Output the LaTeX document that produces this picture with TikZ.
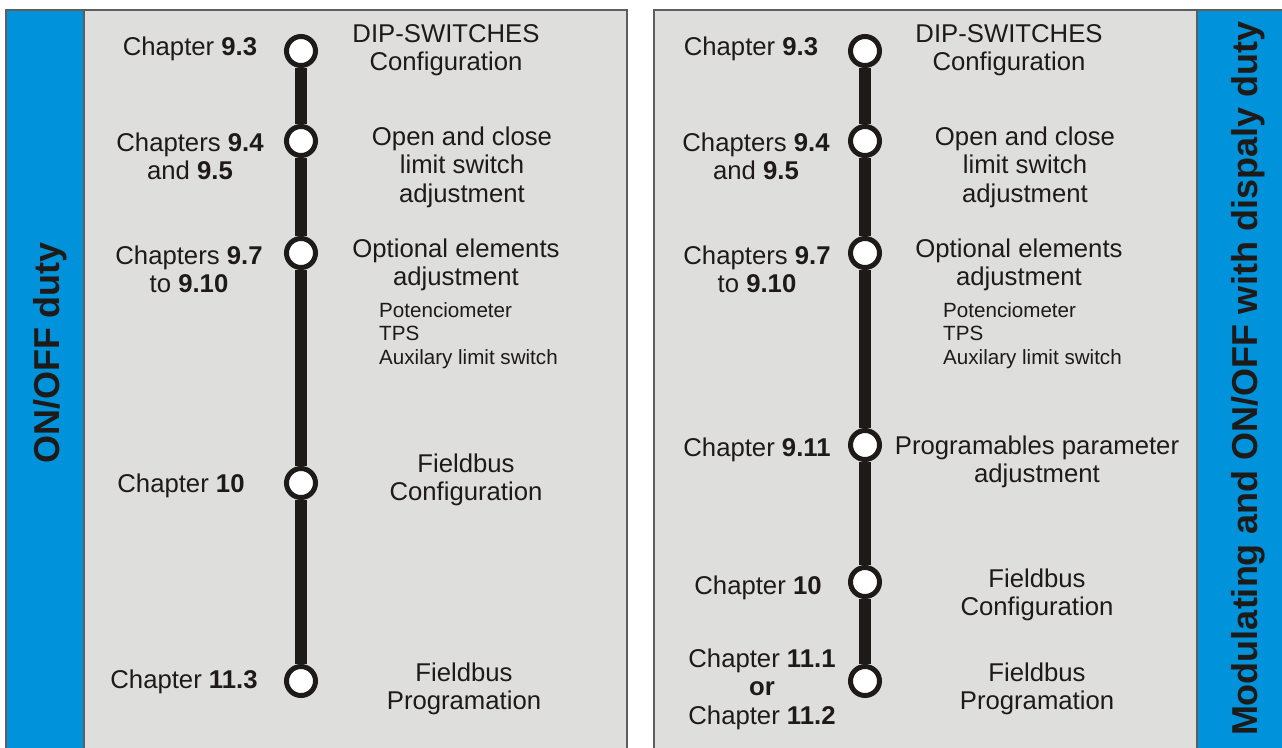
\documentclass[tikz,border=0pt]{standalone}
\usepackage{fontspec}
\setmainfont{Liberation Sans}
\definecolor{stripblue}{HTML}{0093DC}
\definecolor{panelgray}{HTML}{DEDEDD}
\definecolor{edge}{HTML}{5E5E5E}
\definecolor{ink}{HTML}{1E1A18}

\begin{document}
\begin{tikzpicture}[x=1pt, y=-1pt,
  panel/.style={fill=panelgray, draw=edge, line width=1.3pt},
  strip/.style={fill=stripblue, draw=edge, line width=1.3pt},
  stop/.style={circle, draw=ink, fill=white, line width=5pt, minimum size=29pt, inner sep=0pt},
  track/.style={draw=ink, line width=11.5pt},
  chap/.style={anchor=north, align=center, inner sep=0pt, text=ink,
    font=\fontsize{25.7}{28.8}\selectfont},
  items/.style={anchor=north west, align=left, inner sep=0pt, text=ink,
    font=\fontsize{20.6}{23.5}\selectfont},
  side/.style={anchor=base, rotate=90, inner sep=0pt, text=ink,
    font=\fontsize{36}{40}\selectfont\bfseries}]

\useasboundingbox (0,0) rectangle (1282,747);

% ---------- panels ----------
\path[panel] (6,10) rectangle (627,760);
\path[strip] (6,10) rectangle (84,760);
\path[panel] (654,10) rectangle (1290,760);
\path[strip] (1197,10) rectangle (1290,760);

% ---------- side titles ----------
\node[side] (titleL) at (59,353) {ON/OFF duty};
\node[side] (titleR) at (1257,379) {Modulating and ON/OFF with dispaly duty};

% ---------- left sequence ----------
\node[stop] (L1) at (301,51) {};
\node[stop] (L2) at (301,141) {};
\node[stop] (L3) at (301,253) {};
\node[stop] (L4) at (301,483) {};
\node[stop] (L5) at (301,681) {};
\draw[track] (L1) -- (L2);
\draw[track] (L2) -- (L3);
\draw[track] (L3) -- (L4);
\draw[track] (L4) -- (L5);

\node[chap] (lc1) at (190,34.8) {\strut Chapter \textbf{9.3}};
\node[chap] (lc2) at (190,130.8) {\strut Chapters \textbf{9.4}\\and \textbf{9.5}};
\node[chap] (lc3) at (189,243.8) {\strut Chapters \textbf{9.7}\\to \textbf{9.10}};
\node[chap] (lc4) at (181,471.8) {\strut Chapter \textbf{10}};
\node[chap] (lc5) at (184,667.8) {\strut Chapter \textbf{11.3}};

\node[chap] (ld1) at (446,21.8) {\strut DIP-SWITCHES\\Configuration};
\node[chap] (ld2) at (462,124.8) {\strut Open and close\\limit switch\\adjustment};
\node[chap] (ld3) at (456,236.8) {\strut Optional elements\\adjustment};
\node[items] (ll3) at (379,300.5) {\strut Potenciometer\\TPS\\Auxilary limit switch};
\node[chap] (ld4) at (466,451.8) {\strut Fieldbus\\Configuration};
\node[chap] (ld5) at (464,660.8) {\strut Fieldbus\\Programation};

% ---------- right sequence ----------
\node[stop] (R1) at (865,51) {};
\node[stop] (R2) at (865,141) {};
\node[stop] (R3) at (865,253) {};
\node[stop] (R4) at (865,445) {};
\node[stop] (R5) at (865,582) {};
\node[stop] (R6) at (865,681) {};
\draw[track] (R1) -- (R2);
\draw[track] (R2) -- (R3);
\draw[track] (R3) -- (R4);
\draw[track] (R4) -- (R5);
\draw[track] (R5) -- (R6);

\node[chap] (rc1) at (751,34.8) {\strut Chapter \textbf{9.3}};
\node[chap] (rc2) at (756,130.8) {\strut Chapters \textbf{9.4}\\and \textbf{9.5}};
\node[chap] (rc3) at (757,243.8) {\strut Chapters \textbf{9.7}\\to \textbf{9.10}};
\node[chap] (rc4) at (757,435.8) {\strut Chapter \textbf{9.11}};
\node[chap] (rc5) at (758,573.8) {\strut Chapter \textbf{10}};
\node[chap] (rc6) at (762,646.8) {\strut Chapter \textbf{11.1}\\\textbf{or}\\Chapter \textbf{11.2}};

\node[chap] (rd1) at (1009,21.8) {\strut DIP-SWITCHES\\Configuration};
\node[chap] (rd2) at (1025,124.8) {\strut Open and close\\limit switch\\adjustment};
\node[chap] (rd3) at (1019,236.8) {\strut Optional elements\\adjustment};
\node[items] (rl3) at (943,300.5) {\strut Potenciometer\\TPS\\Auxilary limit switch};
\node[chap] (rd4) at (1037,433.8) {\strut Programables parameter\\adjustment};
\node[chap] (rd5) at (1037,566.8) {\strut Fieldbus\\Configuration};
\node[chap] (rd6) at (1037,660.8) {\strut Fieldbus\\Programation};

\end{tikzpicture}
\end{document}
